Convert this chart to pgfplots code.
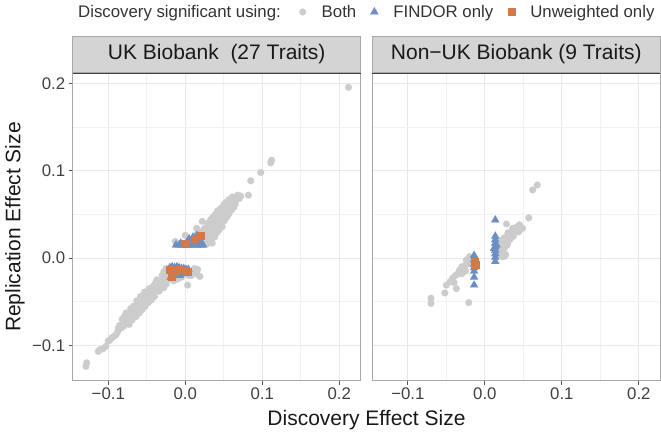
\documentclass[border=0pt]{standalone}
\usepackage{pgfplots}
\pgfplotsset{compat=1.18}
\usepackage{fontspec}
\setmainfont{Liberation Sans}
\definecolor{ptgray}{HTML}{CCCCCC}
\definecolor{ptblue}{HTML}{6B8FC4}
\definecolor{ptorange}{HTML}{D2794B}
\definecolor{stripfill}{HTML}{D4D4D4}
\definecolor{panelborder}{HTML}{A8A8A8}
\definecolor{gridmaj}{HTML}{E8E8E8}
\definecolor{gridmin}{HTML}{F2F2F2}
\definecolor{tickcol}{HTML}{555555}
\pgfplotsset{
  facet/.style={
    scale only axis, width=288pt, height=307.4pt,
    xmin=-0.1462, xmax=0.2278, ymin=-0.1405, ymax=0.2116,
    xtick={-0.1,0,0.1,0.2}, ytick={-0.1,0,0.1,0.2},
    minor xtick={-0.05,0.05,0.15}, minor ytick={-0.05,0.05,0.15},
    grid=both,
    major grid style={draw=gridmaj, line width=0.9pt},
    minor grid style={draw=gridmin, line width=0.6pt},
    axis line style={draw=panelborder, line width=0.9pt},
    tick pos=left, tick align=outside, major tick length=4pt, minor tick length=0pt,
    tick style={draw=tickcol, line width=0.8pt},
    ticklabel style={font=\fontsize{16.8}{18}\selectfont, text=black!75},
    xticklabels={−0.1,0.0,0.1,0.2},
    clip=false,
    every axis title/.style={at={(0.5,1)}, anchor=south, fill=stripfill, draw=panelborder, line width=0.9pt,
      minimum width=288pt, minimum height=36.6pt, inner sep=0pt, font=\fontsize{21}{24}\selectfont, text=black!90},
  },
  both/.style={only marks, mark=*, mark size=3.45pt, color=ptgray, line width=0.1pt, mark options={fill=ptgray, draw=ptgray}},
  findor/.style={only marks, mark=triangle*, mark size=4.7pt, color=ptblue, line width=0.1pt, mark options={fill=ptblue, draw=ptblue}},
  unw/.style={only marks, mark=square*, mark size=3.5pt, color=ptorange, line width=0.1pt, mark options={fill=ptorange, draw=ptorange}},
}
\begin{document}
\begin{tikzpicture}
\useasboundingbox (0,0) rectangle (661pt,434pt);
% ---------------- left panel ----------------
\begin{axis}[facet, at={(72.7pt,53.3pt)}, anchor=south west,
  title={UK Biobank~~(27 Traits)},
  yticklabels={−0.1,0.0,0.1,0.2},
  legend columns=4,
  legend style={at={(rel axis cs:0.0184,1.1995)}, anchor=west, draw=none, fill=none,
    inner sep=0pt, font=\fontsize{16.8}{18}\selectfont, text=black!80,
    nodes={inner sep=0pt, anchor=west},
    /tikz/column 1/.style={column sep=0pt},
    /tikz/column 2/.style={column sep=18.5pt},
    /tikz/column 3/.style={column sep=15.5pt},
    /tikz/column 4/.style={column sep=14.0pt},
    /tikz/column 5/.style={column sep=15.0pt},
    /tikz/column 6/.style={column sep=14.5pt},
    /tikz/column 7/.style={column sep=15.5pt}},
  legend image code/.code={\draw[#1] plot coordinates {(0pt,0pt)};},
]
\addlegendimage{empty legend}
\addlegendentry{Discovery significant using:}
\addplot[both] coordinates {
(0.212,0.1955)(0.112,0.112)(0.111,0.109)(0.098,0.098)(0.085,0.0885)(0.072,0.071)(0.082,0.072)
(0.065,0.068)(0.062,0.066)(0.060,0.062)(0.058,0.060)(0.056,0.056)(0.055,0.059)(0.053,0.054)
(0.052,0.050)(0.050,0.052)(0.049,0.048)(0.048,0.051)(0.046,0.046)(0.045,0.043)(0.044,0.047)
(0.042,0.044)(0.041,0.040)(0.040,0.042)(0.039,0.038)(0.038,0.041)(0.037,0.036)(0.036,0.033)
(0.035,0.038)(0.034,0.031)(0.033,0.035)(0.032,0.028)(0.031,0.032)(0.030,0.026)(0.029,0.030)
(0.028,0.024)(0.027,0.028)(0.026,0.022)(0.025,0.019)(0.024,0.025)(0.023,0.017)(0.022,0.021)
(0.030,0.018)(0.028,0.016)(0.033,0.020)(0.035,0.025)(0.038,0.030)(0.042,0.035)(0.045,0.038)
(0.048,0.042)(0.052,0.046)(0.056,0.050)(0.060,0.055)(0.058,0.064)(0.054,0.062)(0.050,0.057)
(0.046,0.052)(0.043,0.050)(0.040,0.046)(0.037,0.044)(0.034,0.040)(0.031,0.037)(0.028,0.034)
(0.022,0.042)(0.018,0.030)(0.015,0.027)(0.012,0.024)(0.000,0.026)(-0.013,0.019)(-0.005,0.017)
(0.005,0.021)(0.010,0.020)(0.020,0.027)(0.016,0.022)(0.065,0.062)(0.068,0.072)(0.070,0.068)
(0.063,0.058)(0.0148,0.034)(0.025,0.031)(0.027,0.035)
(0.024,0.033)(0.030,0.040)(0.033,0.044)(0.036,0.047)(0.039,0.050)(0.042,0.054)(0.046,0.057)
(0.050,0.061)(0.053,0.064)(0.057,0.067)(0.061,0.070)(0.032,0.023)(0.036,0.028)(0.040,0.033)
(0.044,0.036)(0.047,0.040)(0.051,0.043)(0.054,0.047)(0.057,0.052)(0.061,0.059)(0.035,0.017)
(0.038,0.024)(0.041,0.029)(0.044,0.032)(0.048,0.036)(0.026,0.016)(0.020,0.024)(0.023,0.029)
(0.019,-0.021)(0.015,-0.018)(0.010,-0.016)(0.005,-0.020)(0.003,-0.031)(-0.005,-0.022)
(-0.010,-0.024)(-0.015,-0.026)(-0.020,-0.024)(-0.025,-0.022)(-0.025,-0.030)(-0.030,-0.028)
(-0.028,-0.034)(-0.033,-0.031)(-0.035,-0.036)(-0.037,-0.025)(-0.025,-0.012)(-0.028,-0.016)
(-0.022,-0.018)(-0.030,-0.020)(-0.024,-0.026)(0.012,-0.012)(0.016,-0.013)(0.008,-0.020)
(-0.038,-0.034)(-0.040,-0.037)(-0.042,-0.040)(-0.044,-0.038)(-0.045,-0.042)(-0.047,-0.044)
(-0.048,-0.040)(-0.050,-0.046)(-0.052,-0.048)(-0.053,-0.044)(-0.055,-0.050)(-0.056,-0.053)
(-0.058,-0.052)(-0.060,-0.056)(-0.061,-0.058)(-0.063,-0.057)(-0.064,-0.061)(-0.066,-0.063)
(-0.068,-0.062)(-0.070,-0.066)(-0.072,-0.071)(-0.074,-0.069)(-0.076,-0.074)(-0.078,-0.072)
(-0.080,-0.078)(-0.083,-0.080)(-0.085,-0.077)(-0.088,-0.085)(-0.090,-0.088)(-0.093,-0.090)
(-0.098,-0.094)(-0.103,-0.101)(-0.107,-0.104)(-0.111,-0.105)(-0.113,-0.107)(-0.128,-0.120)
(-0.129,-0.124)(-0.036,-0.030)(-0.034,-0.038)(-0.032,-0.027)(-0.030,-0.033)(-0.041,-0.032)
(-0.046,-0.037)(-0.051,-0.041)(-0.057,-0.047)(-0.062,-0.052)(-0.065,-0.058)(-0.069,-0.060)
(-0.075,-0.066)(-0.079,-0.067)(-0.082,-0.070)
(-0.040,-0.044)(-0.044,-0.048)(-0.048,-0.051)(-0.052,-0.055)(-0.056,-0.059)(-0.060,-0.063)
(-0.064,-0.067)(-0.069,-0.071)(-0.073,-0.076)(-0.039,-0.029)(-0.043,-0.034)(-0.047,-0.035)
(-0.053,-0.039)(-0.058,-0.044)(-0.063,-0.049)(-0.067,-0.055)(-0.071,-0.058)(-0.077,-0.063)
(-0.087,-0.080)(-0.095,-0.091)(-0.100,-0.095)
};
\addlegendentry{Both}
\addplot[findor] coordinates {
(-0.012,0.015)(-0.008,0.015)(-0.004,0.015)(0.000,0.015)(0.004,0.015)(0.008,0.015)(0.012,0.015)
(0.016,0.015)(0.020,0.015)(0.023,0.015)(-0.006,0.017)(0.002,0.018)(0.008,0.019)(0.013,0.020)
(0.018,0.021)(0.010,0.024)(0.015,0.026)(0.005,0.022)(0.020,0.018)
(-0.020,-0.011)(-0.017,-0.010)(-0.014,-0.011)(-0.011,-0.010)(-0.008,-0.011)(-0.005,-0.012)
(-0.002,-0.012)(0.001,-0.013)(0.004,-0.013)(-0.018,-0.015)(-0.013,-0.016)(-0.009,-0.015)
(-0.006,-0.017)(-0.016,-0.019)(-0.011,-0.020)(-0.003,-0.016)(0.000,-0.018)(-0.019,-0.022)
(-0.007,-0.020)
};
\addlegendentry{FINDOR only}
\addplot[unw] coordinates {
(0.0,0.017)(0.0126,0.0206)(0.020,0.026)
(-0.020,-0.0137)(-0.018,-0.021)(-0.007,-0.0137)(0.0026,-0.0157)(-0.012,-0.016)
};
\addlegendentry{Unweighted only}
\draw[color=black!75, line width=1.2pt] (rel axis cs:0,1) -- (rel axis cs:1,1);
\end{axis}
% ---------------- right panel ----------------
\begin{axis}[facet, at={(372.3pt,53.3pt)}, anchor=south west,
  title={Non−UK Biobank (9 Traits)},
  yticklabels={}, ytick style={draw=none},
]
\addplot[both] coordinates {
(0.068,0.0836)(0.062,0.078)(0.057,0.046)
(0.049,0.034)(0.045,0.038)(0.042,0.036)(0.040,0.032)(0.038,0.030)(0.036,0.034)(0.034,0.028)
(0.032,0.026)(0.030,0.029)(0.028,0.039)(0.028,0.024)(0.026,0.020)(0.025,0.023)(0.024,0.017)
(0.022,0.015)(0.021,0.012)(0.023,0.008)(0.025,0.002)(0.023,0.0015)(0.020,0.004)(0.027,0.004)
(0.030,0.018)(0.033,0.022)(0.037,0.025)(0.044,0.030)(0.020,0.020)(0.018,0.010)(0.026,0.012)
(0.029,0.015)
(-0.014,0.001)(-0.018,-0.002)(-0.020,0.0015)(-0.024,-0.0023)(-0.022,-0.006)(-0.025,-0.008)
(-0.027,-0.012)(-0.030,-0.010)(-0.033,-0.014)(-0.035,-0.018)(-0.038,-0.020)(-0.042,-0.023)
(-0.045,-0.027)(-0.050,-0.031)(-0.037,-0.035)(-0.052,-0.040)(-0.070,-0.046)(-0.070,-0.052)
(-0.021,-0.051)(-0.030,-0.018)(-0.025,-0.015)(-0.040,-0.028)(-0.018,-0.007)
};
\addplot[findor] coordinates {
(0.0135,0.0435)(0.0135,0.025)(0.0135,0.021)(0.0135,0.017)(0.0135,0.013)(0.0135,0.009)
(0.0135,0.005)(0.0135,0.001)(0.0135,-0.004)(0.015,0.015)(0.012,0.011)
(-0.014,0.003)(-0.014,-0.002)(-0.014,-0.007)(-0.014,-0.011)(-0.014,-0.015)(-0.014,-0.022)
(-0.014,-0.031)
};
\addplot[unw] coordinates {
(-0.014,-0.004)(-0.012,-0.007)
};
\draw[color=black!75, line width=1.2pt] (rel axis cs:0,1) -- (rel axis cs:1,1);
\end{axis}
\node[font=\fontsize{21}{24}\selectfont, text=black!90] at (366.5pt,14pt) {Discovery Effect Size};
\node[font=\fontsize{21}{24}\selectfont, text=black!90, rotate=90] at (15pt,207pt) {Replication Effect Size};
\end{tikzpicture}
\end{document}
